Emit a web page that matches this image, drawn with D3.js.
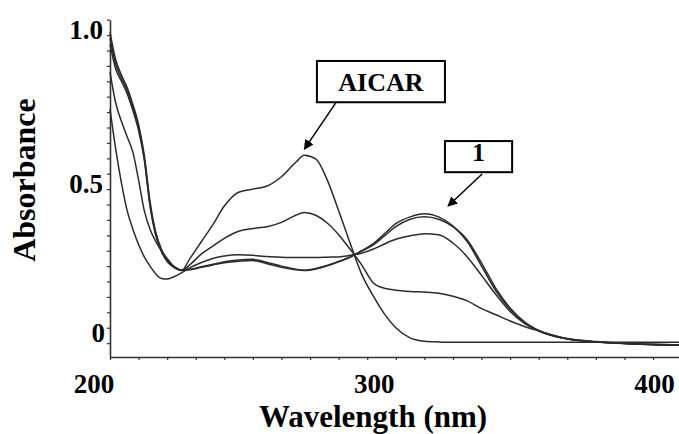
<!DOCTYPE html>
<html>
<head>
<meta charset="utf-8">
<script src="https://cdn.jsdelivr.net/npm/d3@7"></script>
<style>
  body { margin: 0; background: #fff; }
  text { font-family: "Times New Roman", "Liberation Serif", serif; font-weight: bold; fill: #000; }
</style>
</head>
<body>
<svg id="chart" width="679" height="434"></svg>
<script>
// wavelengths (nm) shared by all spectra
const wavelengths = [200, 202, 204, 206, 208, 210, 212, 214, 216, 218, 220, 222, 225, 228, 232, 236, 240, 245, 250, 255, 260, 265, 268, 272, 276, 280, 284, 288, 292, 296, 300, 305, 310, 315, 320, 325, 330, 335, 340, 345, 350, 360, 370, 380, 390, 400];

// absorbance of each spectrum
const aicar = [0.88, 0.78, 0.72, 0.67, 0.62, 0.53, 0.43, 0.37, 0.33, 0.30, 0.275, 0.252, 0.236, 0.275, 0.33, 0.385, 0.445, 0.49, 0.50, 0.51, 0.54, 0.587, 0.61, 0.598, 0.53, 0.43, 0.325, 0.225, 0.155, 0.095, 0.05, 0.017, 0.006, 0.004, 0.003, 0.003, 0.003, 0.003, 0.003, 0.003, 0.003, 0.003, 0.003, 0.003, 0.003, 0.003];
const specA = [1.01, 0.92, 0.87, 0.83, 0.775, 0.71, 0.61, 0.46, 0.36, 0.305, 0.27, 0.252, 0.238, 0.24, 0.248, 0.256, 0.264, 0.27, 0.272, 0.262, 0.25, 0.24, 0.237, 0.242, 0.252, 0.265, 0.28, 0.30, 0.322, 0.355, 0.388, 0.41, 0.42, 0.41, 0.38, 0.33, 0.25, 0.17, 0.11, 0.067, 0.04, 0.014, 0.004, -0.001, -0.005, -0.007];
const specB = [0.99, 0.905, 0.86, 0.82, 0.765, 0.70, 0.60, 0.45, 0.355, 0.30, 0.268, 0.25, 0.237, 0.238, 0.246, 0.254, 0.261, 0.266, 0.268, 0.258, 0.246, 0.238, 0.236, 0.241, 0.251, 0.264, 0.279, 0.298, 0.318, 0.348, 0.378, 0.402, 0.41, 0.402, 0.378, 0.335, 0.26, 0.178, 0.114, 0.069, 0.041, 0.014, 0.004, -0.001, -0.005, -0.007];
const specC = [0.76, 0.63, 0.52, 0.43, 0.37, 0.32, 0.28, 0.25, 0.225, 0.21, 0.208, 0.214, 0.228, 0.245, 0.262, 0.275, 0.283, 0.287, 0.285, 0.281, 0.279, 0.278, 0.278, 0.278, 0.279, 0.28, 0.285, 0.292, 0.305, 0.322, 0.337, 0.348, 0.355, 0.352, 0.325, 0.28, 0.22, 0.158, 0.103, 0.064, 0.039, 0.013, 0.004, -0.001, -0.004, -0.006];
const specD = [0.97, 0.89, 0.85, 0.81, 0.755, 0.69, 0.595, 0.445, 0.35, 0.297, 0.265, 0.248, 0.236, 0.255, 0.29, 0.315, 0.34, 0.363, 0.372, 0.378, 0.392, 0.415, 0.424, 0.415, 0.39, 0.352, 0.305, 0.255, 0.197, 0.178, 0.172, 0.168, 0.166, 0.162, 0.152, 0.137, 0.112, 0.092, 0.072, 0.054, 0.04, 0.015, 0.005, 0.0, -0.004, -0.006];

const spectra = [aicar, specA, specB, specC, specD];

// ticks and labels
const xMinorTicks = d3.range(200, 401, 10);
const yMinorTicks = d3.range(0, 1.051, 0.05);
const xTickLabels = [200, 300, 400];
const yTickLabels = [0, 0.5, 1.0];

// labels with arrows: box corners and arrow in data units
const notes = [
  { text: "AICAR", box: [272.4, 0.916, 317.2, 0.782], from: [279, 0.78], to: [268, 0.63] },
  { text: "1", box: [317.2, 0.656, 340.7, 0.555], from: [330.2, 0.549], to: [318.3, 0.445] }
];

const svg = d3.select("#chart");

const x = d3.scaleLinear().domain([200, 400]).range([110, 681.6]);
const y = d3.scaleLinear().domain([-0.045, 1.049]).range([357, 20]);

svg.append("rect").attr("width", 679).attr("height", 434).attr("fill", "#fff");

// ---- axes ----
const xAxis = svg.append("g")
  .attr("transform", "translate(0,357)")
  .call(d3.axisBottom(x).tickValues(xMinorTicks).tickSize(3).tickSizeOuter(0).tickFormat(""));
const yAxis = svg.append("g")
  .attr("transform", "translate(110,0)")
  .call(d3.axisLeft(y).tickValues(yMinorTicks).tickSize(3).tickSizeOuter(0).tickFormat(""));
[xAxis, yAxis].forEach(g => {
  g.select(".domain").attr("stroke", "#333").attr("stroke-width", 1.6);
  g.selectAll(".tick line").attr("stroke", "#333").attr("stroke-width", 1.2);
});

// the printed labels sit a little left of their ticks
svg.selectAll(".xlab")
  .data(xTickLabels)
  .enter().append("text")
  .attr("x", d => x(d) - 16 - (d - 200) * 0.055)
  .attr("y", 393)
  .attr("text-anchor", "middle")
  .style("font-size", "27px")
  .text(d => d);

svg.selectAll(".ylab")
  .data(yTickLabels)
  .enter().append("text")
  .attr("x", d => d === 0 ? 105 : 103)
  .attr("y", d => y(d) + 4 - (d === 0 ? 5 : 0))
  .attr("text-anchor", "end")
  .style("font-size", "27px")
  .text(d => d === 0 ? "0" : d.toFixed(1));

svg.append("text")
  .attr("x", 373)
  .attr("y", 427)
  .attr("text-anchor", "middle")
  .style("font-size", "31px")
  .text("Wavelength (nm)");

svg.append("text")
  .attr("transform", "translate(35,180) rotate(-90)")
  .attr("text-anchor", "middle")
  .style("font-size", "32px")
  .text("Absorbance");

// ---- spectra ----
const line = d3.line()
  .x((d, i) => x(wavelengths[i]))
  .y(d => y(d))
  .curve(d3.curveMonotoneX);

svg.append("g")
  .selectAll("path")
  .data(spectra)
  .enter().append("path")
  .attr("d", line)
  .attr("fill", "none")
  .attr("stroke", "#2b2b2b")
  .attr("stroke-width", 1.5);

// ---- labels with arrows ----
svg.append("defs").append("marker")
  .attr("id", "head")
  .attr("viewBox", "0 0 10 10")
  .attr("refX", 9).attr("refY", 5)
  .attr("markerWidth", 10).attr("markerHeight", 10)
  .attr("markerUnits", "userSpaceOnUse")
  .attr("orient", "auto")
  .append("path")
  .attr("d", "M0,0 L10,5 L0,10 Z")
  .attr("fill", "#000");

notes.forEach(n => {
  const x0 = x(n.box[0]), y0 = y(n.box[1]), x1 = x(n.box[2]), y1 = y(n.box[3]);
  svg.append("rect")
    .attr("x", x0).attr("y", y0)
    .attr("width", x1 - x0).attr("height", y1 - y0)
    .attr("fill", "#fff").attr("stroke", "#000").attr("stroke-width", 2);
  svg.append("text")
    .attr("x", (x0 + x1) / 2)
    .attr("y", y1 - 11)
    .attr("text-anchor", "middle")
    .style("font-size", "26px")
    .text(n.text);
  svg.append("line")
    .attr("x1", x(n.from[0])).attr("y1", y(n.from[1]))
    .attr("x2", x(n.to[0])).attr("y2", y(n.to[1]))
    .attr("stroke", "#000").attr("stroke-width", 1.5)
    .attr("marker-end", "url(#head)");
});
</script>
</body>
</html>
